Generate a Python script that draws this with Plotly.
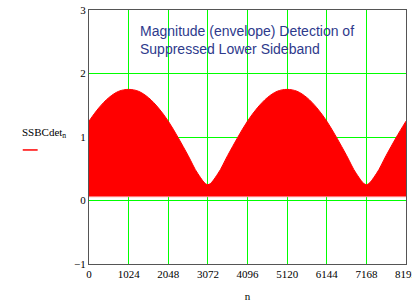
import plotly.graph_objects as go

# envelope of detected signal, read every 256 samples
n_vals = list(range(0, 8193, 256))
envelope = [1.25, 1.46, 1.62, 1.72, 1.75, 1.72, 1.62, 1.46, 1.25, 0.99, 0.71, 0.42, 0.25,
            0.42, 0.71, 0.99, 1.25, 1.46, 1.62, 1.72, 1.75, 1.72, 1.62, 1.46, 1.25, 0.99,
            0.71, 0.42, 0.25, 0.42, 0.71, 0.99, 1.25]
floor_vals = [0.06] * len(n_vals)

x_ticks = [0, 1024, 2048, 3072, 4096, 5120, 6144, 7168, 8192]
y_ticks = [-1, 0, 1, 2, 3]

fig = go.Figure()
fig.add_trace(go.Scatter(x=n_vals, y=floor_vals, mode="lines",
                         line=dict(color="#ff8080", width=1), showlegend=False,
                         hoverinfo="skip"))
fig.add_trace(go.Scatter(x=n_vals, y=envelope, mode="lines", fill="tonexty",
                         fillcolor="#ff0000", line=dict(color="#ff0000", width=1, shape="spline"),
                         showlegend=False))

serif = "Liberation Serif"
fig.update_layout(
    width=412, height=304,
    margin=dict(l=88.5, r=6, t=9.5, b=39.5, autoexpand=False),
    paper_bgcolor="white", plot_bgcolor="white",
    showlegend=False,
    xaxis=dict(range=[0, 8192], tickvals=x_ticks, ticktext=[str(v) for v in x_ticks],
               showgrid=True, gridcolor="#00ff00", gridwidth=1, zeroline=False,
               showline=True, linecolor="#555555", linewidth=1, mirror=True,
               ticks="", automargin=False, ticklabeloverflow="allow",
               tickfont=dict(family=serif, size=11, color="black"),
               title=dict(text="n", font=dict(family=serif, size=11, color="black"), standoff=13)),
    yaxis=dict(range=[-1, 3], tickvals=y_ticks,
               showgrid=True, gridcolor="#00ff00", gridwidth=1, zeroline=False,
               showline=True, linecolor="#555555", linewidth=1, mirror=True,
               ticks="", automargin=False,
               tickfont=dict(family=serif, size=11, color="black")),
    annotations=[
        dict(text="Magnitude (envelope) Detection of<br>Suppressed Lower Sideband",
             xref="paper", yref="paper", x=0.156, y=0.955, xanchor="left", yanchor="top",
             align="left", showarrow=False,
             font=dict(family="Liberation Sans", size=14, color="#2e3a8c")),
        dict(text="SSBCdet<sub>n</sub>", xref="paper", yref="paper",
             x=-0.218, y=0.515, xanchor="left", yanchor="middle", showarrow=False,
             font=dict(family=serif, size=11, color="black")),
    ],
    shapes=[dict(type="line", xref="paper", yref="paper", x0=-0.209, x1=-0.162,
                 y0=0.449, y1=0.449, line=dict(color="#ff0000", width=1.5))],
)
fig.write_html("out.html", config={"displayModeBar": False},
               post_script="document.body.style.margin='0px';")
